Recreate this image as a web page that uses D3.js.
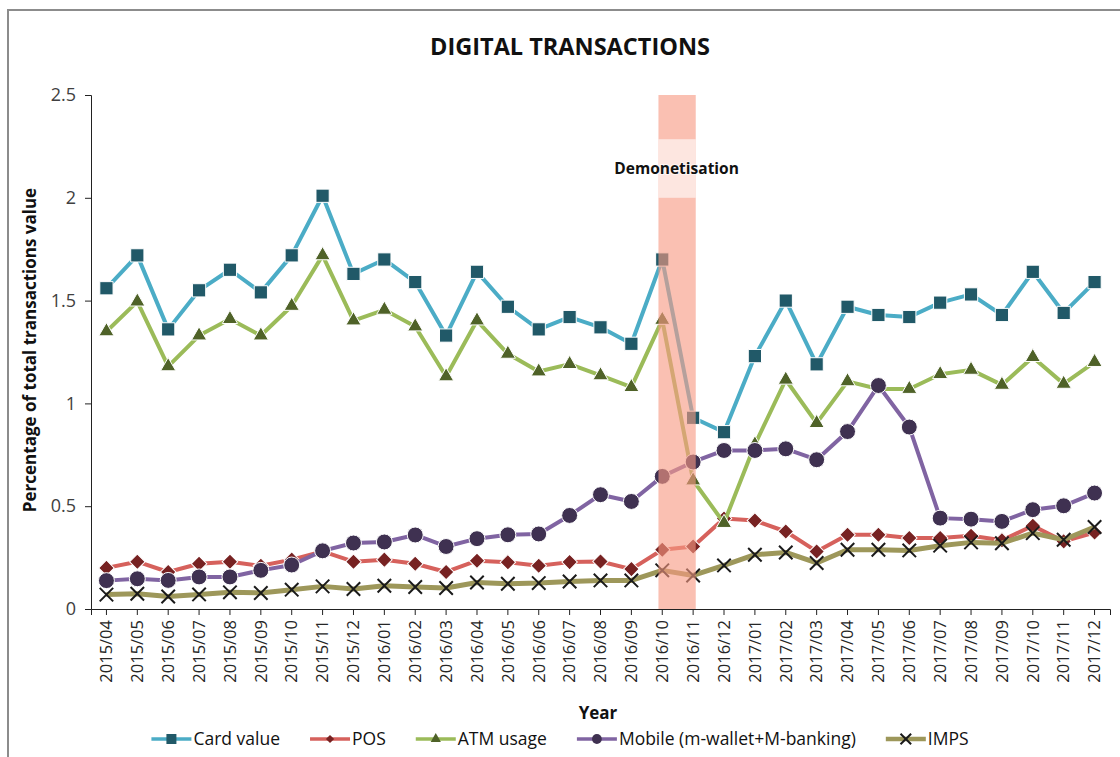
<!DOCTYPE html>
<html>
<head>
<meta charset="utf-8">
<script src="https://cdn.jsdelivr.net/npm/d3@7"></script>
<style>
  body { margin: 0; background: #fff; }
  text { font-family: "Open Sans", "Liberation Sans", sans-serif; }
</style>
</head>
<body>
<div id="chart"></div>
<script>
// months on the x axis
const months = [
  "2015/04","2015/05","2015/06","2015/07","2015/08","2015/09","2015/10","2015/11","2015/12",
  "2016/01","2016/02","2016/03","2016/04","2016/05","2016/06","2016/07","2016/08","2016/09","2016/10","2016/11","2016/12",
  "2017/01","2017/02","2017/03","2017/04","2017/05","2017/06","2017/07","2017/08","2017/09","2017/10","2017/11","2017/12"
];
const cardValue = [1.56,1.72,1.36,1.55,1.65,1.54,1.72,2.01,1.63,
  1.70,1.59,1.33,1.64,1.47,1.36,1.42,1.37,1.29,1.70,0.93,0.86,
  1.23,1.50,1.19,1.47,1.43,1.42,1.49,1.53,1.43,1.64,1.44,1.59];
const pos = [0.20,0.23,0.18,0.22,0.23,0.21,0.24,0.28,0.23,
  0.24,0.22,0.18,0.235,0.227,0.21,0.228,0.231,0.194,0.288,0.304,0.44,
  0.43,0.377,0.28,0.361,0.361,0.345,0.345,0.356,0.334,0.405,0.329,0.372];
const atmUsage = [1.35,1.495,1.18,1.33,1.41,1.33,1.474,1.72,1.403,
  1.455,1.374,1.131,1.403,1.241,1.155,1.191,1.136,1.079,1.406,0.625,0.418,
  0.80,1.115,0.904,1.107,1.07,1.07,1.142,1.163,1.09,1.225,1.095,1.201];
const mobile = [0.138,0.147,0.139,0.156,0.156,0.188,0.214,0.283,0.321,
  0.326,0.36,0.304,0.342,0.361,0.365,0.455,0.556,0.523,0.645,0.715,0.771,
  0.771,0.779,0.726,0.863,1.087,0.885,0.442,0.437,0.426,0.483,0.502,0.564];
const imps = [0.07,0.074,0.061,0.071,0.081,0.078,0.094,0.11,0.097,
  0.113,0.107,0.102,0.129,0.123,0.126,0.134,0.139,0.139,0.188,0.163,0.212,
  0.264,0.275,0.224,0.288,0.288,0.285,0.308,0.324,0.32,0.369,0.337,0.399];
const yTicks = [0, 0.5, 1, 1.5, 2, 2.5];
const demonetisation = ["2016/10", "2016/11"];
const demoLabelRange = [2.0, 2.285];

const series = [
  { name: "Card value", values: cardValue, line: "#4BACC6", fill: "#215968", shape: "square" },
  { name: "POS", values: pos, line: "#D6615C", fill: "#772222", shape: "diamond" },
  { name: "ATM usage", values: atmUsage, line: "#9BBB59", fill: "#4F6228", shape: "triangle" },
  { name: "Mobile (m-wallet+M-banking)", values: mobile, line: "#8064A2", fill: "#3F3151", shape: "circle" },
  { name: "IMPS", values: imps, line: "#9D975A", fill: "none", shape: "x" }
];

const W = 1120, H = 757;
const margin = { top: 95, right: 10, bottom: 148, left: 91 };
const width = W - margin.left - margin.right;
const height = H - margin.top - margin.bottom;

const svg = d3.select("#chart").append("svg")
  .attr("width", W).attr("height", H);

// outer frame (left + top edges visible)
svg.append("path")
  .attr("d", "M8," + H + "V10H" + W)
  .attr("fill", "none").attr("stroke", "#8c8c8c").attr("stroke-width", 2);

svg.append("text")
  .attr("x", 570).attr("y", 55)
  .attr("text-anchor", "middle")
  .style("font-size", "23.5px").style("font-weight", "700").style("fill", "#111")
  .text("DIGITAL TRANSACTIONS");

const g = svg.append("g").attr("transform", "translate(" + margin.left + "," + margin.top + ")");

const x = d3.scaleBand().domain(months).range([0, width]);
const y = d3.scaleLinear().domain([0, 2.5]).range([height, 0]);
const cx = d => x(d) + x.bandwidth() / 2;

// axes
const yAxis = g.append("g").call(d3.axisLeft(y).tickValues(yTicks).tickFormat(d3.format("")).tickSize(6).tickPadding(9));
yAxis.select(".domain").attr("stroke", "#222");
yAxis.selectAll(".tick line").attr("stroke", "#222");
yAxis.selectAll(".tick text").style("font-size", "18px").style("fill", "#404040").style("font-family", "Open Sans");

const xAxis = g.append("g").attr("transform", "translate(0," + height + ")")
  .call(d3.axisBottom(x).tickSize(6).tickSizeOuter(6));
xAxis.select(".domain").attr("stroke", "#222");
xAxis.selectAll(".tick line").attr("stroke", "#222");
xAxis.selectAll(".tick text")
  .attr("transform", "rotate(-90)")
  .attr("x", -11).attr("y", 0).attr("dy", "0.35em")
  .style("text-anchor", "end")
  .style("font-size", "16.5px").style("fill", "#262626").style("font-family", "Open Sans");

// series
const symbolFor = (shape) => {
  if (shape === "square") return d3.symbol(d3.symbolSquare, 175)();
  if (shape === "diamond") return d3.symbol(d3.symbolSquare, 120)();
  if (shape === "triangle") return d3.symbol(d3.symbolTriangle, 100)();
  if (shape === "circle") return d3.symbol(d3.symbolCircle, 200)();
  return d3.symbol(d3.symbolTimes, 120)();
};

const line = d3.line().x(d => cx(d.m)).y(d => y(d.v));

series.forEach(s => {
  const pts = months.map((m, i) => ({ m: m, v: s.values[i] }));
  g.append("path").datum(pts)
    .attr("d", line)
    .attr("fill", "none")
    .attr("stroke", s.line)
    .attr("stroke-width", s.shape === "x" ? 5 : 4)
    .attr("stroke-linejoin", "round");
  g.selectAll(null).data(pts).enter().append("path")
    .attr("d", symbolFor(s.shape))
    .attr("transform", d => "translate(" + cx(d.m) + "," + y(d.v) + ")" + (s.shape === "diamond" ? " rotate(45)" : ""))
    .attr("fill", s.fill)
    .attr("stroke", s.shape === "x" ? "#1a1a1a" : "#ffffff")
    .attr("stroke-width", s.shape === "x" ? 2 : 1);
});

// demonetisation band (drawn over the lines, semi transparent)
const bx0 = cx(demonetisation[0]) - 3.8, bx1 = cx(demonetisation[1]) + 2.6;
g.append("rect")
  .attr("x", bx0).attr("y", 0)
  .attr("width", bx1 - bx0).attr("height", height)
  .attr("fill", "#F79A83").attr("opacity", 0.62);
g.append("rect")
  .attr("x", bx0).attr("y", y(demoLabelRange[1]))
  .attr("width", bx1 - bx0).attr("height", y(demoLabelRange[0]) - y(demoLabelRange[1]))
  .attr("fill", "#ffffff").attr("opacity", 0.6);
g.append("text")
  .attr("x", (bx0 + bx1) / 2 - 0.5).attr("y", y((demoLabelRange[0] + demoLabelRange[1]) / 2))
  .attr("dy", "0.35em")
  .attr("text-anchor", "middle")
  .style("font-size", "15.5px").style("font-weight", "700").style("fill", "#111")
  .style("paint-order", "stroke").style("stroke", "rgba(255,255,255,0.6)").style("stroke-width", "2px")
  .text("Demonetisation");

// y axis title
svg.append("text")
  .attr("transform", "translate(36," + (margin.top + height / 2 - 2) + ") rotate(-90)")
  .attr("text-anchor", "middle")
  .style("font-size", "17px").style("font-weight", "700").style("fill", "#111")
  .text("Percentage of total transactions value");

// x axis title
svg.append("text")
  .attr("x", 598).attr("y", 719)
  .attr("text-anchor", "middle")
  .style("font-size", "17px").style("font-weight", "700").style("fill", "#111")
  .text("Year");

// legend
const legend = svg.append("g");
let lx = 0;
series.forEach(s => {
  const item = legend.append("g").attr("transform", "translate(" + lx + ",0)");
  item.append("line").attr("x1", 0).attr("x2", 40).attr("y1", 0).attr("y2", 0)
    .attr("stroke", s.line).attr("stroke-width", s.shape === "x" ? 4.5 : 3.5);
  item.append("path")
    .attr("d", d3.symbol(
      s.shape === "square" ? d3.symbolSquare : s.shape === "diamond" ? d3.symbolSquare :
      s.shape === "triangle" ? d3.symbolTriangle : s.shape === "circle" ? d3.symbolCircle : d3.symbolTimes,
      s.shape === "square" ? 100 : s.shape === "diamond" ? 34 : s.shape === "triangle" ? 45 : s.shape === "circle" ? 75 : 75)())
    .attr("transform", "translate(20,0)" + (s.shape === "diamond" ? " rotate(45)" : ""))
    .attr("fill", s.fill)
    .attr("stroke", s.shape === "x" ? "#1a1a1a" : "none")
    .attr("stroke-width", 2);
  const t = item.append("text").attr("x", 42).attr("y", 0).attr("dy", "0.35em")
    .style("font-size", "17.5px").style("fill", "#111").text(s.name);
  lx += 42 + t.node().getComputedTextLength() + 30;
});
const legendWidth = lx - 30;
legend.attr("transform", "translate(" + (560 - legendWidth / 2) + ",739)");
</script>
</body>
</html>
